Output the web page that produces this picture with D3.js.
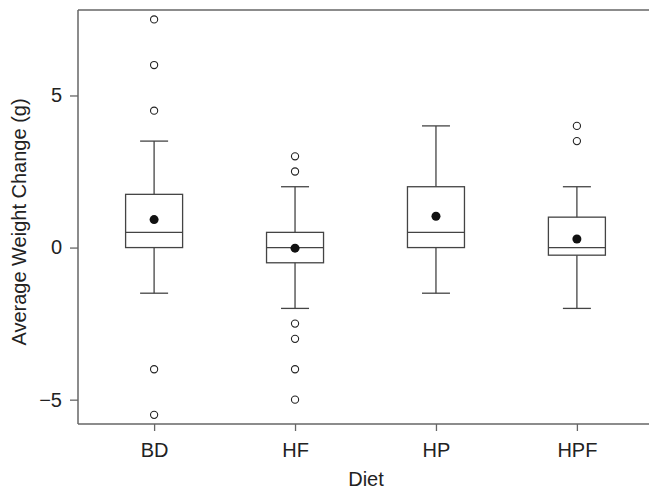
<!DOCTYPE html>
<html lang="en">
<head>
<meta charset="utf-8">
<title>Average Weight Change by Diet</title>
<script src="https://d3js.org/d3.v7.min.js"></script>
<style>
  body { margin: 0; background: #fff; }
  svg text { font-family: "Liberation Sans", Arial, sans-serif; fill: #222; }
  .box, .whisker, .cap, .median { stroke: #444; stroke-width: 1.3; fill: none; }
  .outlier { fill: #fff; stroke: #222; stroke-width: 1.1; }
  .mean { fill: #111; }
</style>
</head>
<body>
<div id="chart"></div>
<script>
  // diet groups and box plot summaries
  var diets = ["BD", "HF", "HP", "HPF"];
  var q1 = [0, -0.5, 0, -0.25];
  var median = [0.5, 0, 0.5, 0];
  var q3 = [1.75, 0.5, 2, 1];
  var whiskerLow = [-1.5, -2, -1.5, -2];
  var whiskerHigh = [3.5, 2, 4, 2];
  var means = [0.92, -0.02, 1.03, 0.28];
  var outliers = [
    [7.5, 6, 4.5, -4, -5.5],
    [3, 2.5, -2.5, -3, -4, -5],
    [],
    [4, 3.5]
  ];
  var yTicks = [-5, 0, 5];

  var width = 649, height = 489;
  var margin = {top: 10, left: 78, bottom: 424};

  var svg = d3.select("#chart").append("svg")
      .attr("width", width)
      .attr("height", height);

  var x = d3.scalePoint()
      .domain(diets)
      .range([margin.left, 653])
      .padding(0.54);

  var y = d3.scaleLinear()
      .domain([-5.8, 7.81])
      .range([margin.bottom, margin.top]);

  var boxW = 57, capW = 28;

  // frame: top, left and bottom (right side runs off the picture)
  svg.append("line")
      .attr("x1", margin.left).attr("x2", width)
      .attr("y1", margin.top).attr("y2", margin.top)
      .attr("stroke", "#666").attr("stroke-width", 1.5);

  var yAxis = svg.append("g")
      .attr("transform", "translate(" + margin.left + ",0)")
      .call(d3.axisLeft(y).tickValues(yTicks).tickSize(8).tickPadding(8)
        .tickFormat(function(d) { return d < 0 ? "\u2212" + Math.abs(d) : d; }));

  var xAxis = svg.append("g")
      .attr("transform", "translate(0," + margin.bottom + ")")
      .call(d3.axisBottom(x).tickSize(7));

  [yAxis, xAxis].forEach(function(g) {
    g.select(".domain").attr("stroke", "#666").attr("stroke-width", 1.5);
    g.selectAll(".tick line").attr("stroke", "#666").attr("stroke-width", 1.3);
    g.selectAll("text").style("font-size", "20px").attr("fill", "#222");
  });
  xAxis.selectAll(".tick text").attr("y", 33).attr("dy", 0);
  xAxis.select(".domain").attr("d", "M" + margin.left + ",0H" + width);
  yAxis.select(".domain").attr("d", "M0," + margin.top + "V" + margin.bottom);

  svg.append("text")
      .attr("x", 366).attr("y", 486)
      .attr("text-anchor", "middle")
      .style("font-size", "20px")
      .text("Diet");

  svg.append("text")
      .attr("transform", "translate(26,222) rotate(-90)")
      .attr("text-anchor", "middle")
      .style("font-size", "20px")
      .text("Average Weight Change (g)");

  var groups = svg.selectAll(".diet")
      .data(diets)
      .enter().append("g")
      .attr("class", "diet");

  groups.append("line").attr("class", "whisker")
      .attr("x1", function(d) { return x(d); })
      .attr("x2", function(d) { return x(d); })
      .attr("y1", function(d, i) { return y(whiskerHigh[i]); })
      .attr("y2", function(d, i) { return y(q3[i]); });

  groups.append("line").attr("class", "whisker")
      .attr("x1", function(d) { return x(d); })
      .attr("x2", function(d) { return x(d); })
      .attr("y1", function(d, i) { return y(q1[i]); })
      .attr("y2", function(d, i) { return y(whiskerLow[i]); });

  groups.append("line").attr("class", "cap")
      .attr("x1", function(d) { return x(d) - capW / 2; })
      .attr("x2", function(d) { return x(d) + capW / 2; })
      .attr("y1", function(d, i) { return y(whiskerHigh[i]); })
      .attr("y2", function(d, i) { return y(whiskerHigh[i]); });

  groups.append("line").attr("class", "cap")
      .attr("x1", function(d) { return x(d) - capW / 2; })
      .attr("x2", function(d) { return x(d) + capW / 2; })
      .attr("y1", function(d, i) { return y(whiskerLow[i]); })
      .attr("y2", function(d, i) { return y(whiskerLow[i]); });

  groups.append("rect").attr("class", "box")
      .attr("x", function(d) { return x(d) - boxW / 2; })
      .attr("width", boxW)
      .attr("y", function(d, i) { return y(q3[i]); })
      .attr("height", function(d, i) { return y(q1[i]) - y(q3[i]); });

  groups.append("line").attr("class", "median")
      .attr("x1", function(d) { return x(d) - boxW / 2; })
      .attr("x2", function(d) { return x(d) + boxW / 2; })
      .attr("y1", function(d, i) { return y(median[i]); })
      .attr("y2", function(d, i) { return y(median[i]); });

  groups.append("circle").attr("class", "mean")
      .attr("cx", function(d) { return x(d); })
      .attr("cy", function(d, i) { return y(means[i]); })
      .attr("r", 4.5);

  groups.each(function(d, i) {
    d3.select(this).selectAll(".outlier")
      .data(outliers[i])
      .enter().append("circle")
        .attr("class", "outlier")
        .attr("cx", x(d))
        .attr("cy", function(v) { return y(v); })
        .attr("r", 3.6);
  });
</script>
</body>
</html>
